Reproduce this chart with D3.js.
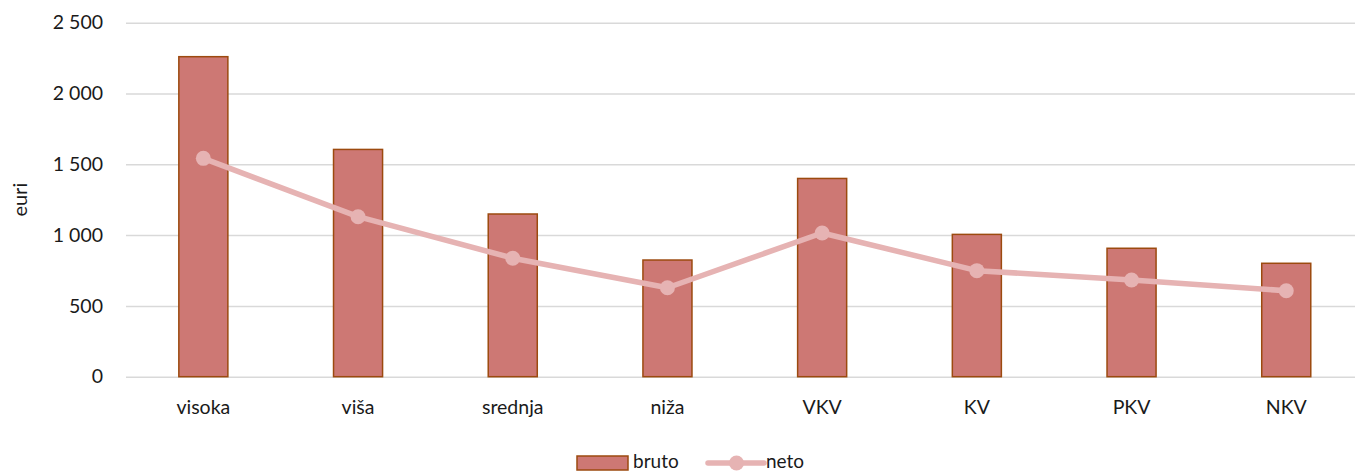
<!DOCTYPE html>
<html>
<head>
<meta charset="utf-8">
<script src="https://cdn.jsdelivr.net/npm/d3@7"></script>
<style>
  body { margin: 0; background: #fff; }
  text { font-family: Lato, "Open Sans", sans-serif; fill: #1a1a1a; }
</style>
</head>
<body>
<svg id="chart"></svg>
<script>
const width = 1355, height = 472;

const MARGIN = { LEFT: 126, TOP: 22.7, BOTTOM: 95.3 };

// data
const categories = ["visoka", "viša", "srednja", "niža", "VKV", "KV", "PKV", "NKV"];
const bruto = [2260, 1605, 1149, 824, 1400, 1005, 907, 801];
const neto = [1542, 1130, 837, 628, 1015, 749, 683, 607];
const yTicks = [0, 500, 1000, 1500, 2000, 2500];

const BAR_FILL = "#cd7874", BAR_STROKE = "#9c4a0f", LINE_COLOR = "#e6b3b3";

const svg = d3.select("#chart").attr("width", width).attr("height", height);

const plotW = 8 * 154.7;
const x = d3.scaleBand()
    .domain(categories)
    .range([MARGIN.LEFT, MARGIN.LEFT + plotW])
    .paddingInner(0.683)
    .paddingOuter(0.3415);

const y = d3.scaleLinear()
    .domain([0, 2500])
    .range([height - MARGIN.BOTTOM, MARGIN.TOP]);

const fmt = v => d3.format(",")(v).replace(/,/g, " ");

// gridlines + y labels
const yAxis = svg.append("g")
    .attr("transform", `translate(${MARGIN.LEFT},0)`)
    .call(d3.axisLeft(y).tickValues(yTicks).tickSize(-plotW).tickFormat(fmt));
yAxis.select(".domain").remove();
yAxis.selectAll(".tick line").attr("stroke", "#d9d9d9").attr("stroke-width", 1.5);
yAxis.selectAll(".tick text")
    .attr("x", -23)
    .style("font-size", "19.5px")
    .style("font-family", "Lato, sans-serif")
    .attr("fill", "#1a1a1a");

// x labels
const xAxis = svg.append("g")
    .attr("transform", `translate(0,${y(0)})`)
    .call(d3.axisBottom(x).tickSize(0));
xAxis.select(".domain").remove();
xAxis.selectAll(".tick text")
    .attr("dy", 0)
    .attr("y", 37)
    .style("font-size", "19.5px")
    .style("font-family", "Lato, sans-serif")
    .attr("fill", "#1a1a1a");

// axis title
svg.append("text")
    .attr("transform", `translate(27,${(y(0) + y(2500)) / 2}) rotate(-90)`)
    .attr("text-anchor", "middle")
    .style("font-size", "20px")
    .text("euri");

// bars
svg.append("g").selectAll("rect")
    .data(categories)
    .join("rect")
    .attr("x", d => x(d))
    .attr("y", (d, i) => y(bruto[i]))
    .attr("width", x.bandwidth())
    .attr("height", (d, i) => y(0) - y(bruto[i]))
    .attr("fill", BAR_FILL)
    .attr("stroke", BAR_STROKE)
    .attr("stroke-width", 1.5);

// neto line
const cx = d => x(d) + x.bandwidth() / 2;
const line = d3.line()
    .x(d => cx(d))
    .y((d, i) => y(neto[i]));
svg.append("path")
    .datum(categories)
    .attr("d", line)
    .attr("fill", "none")
    .attr("stroke", LINE_COLOR)
    .attr("stroke-width", 5.5)
    .attr("stroke-linejoin", "round");

svg.append("g").selectAll("circle")
    .data(categories)
    .join("circle")
    .attr("cx", d => cx(d))
    .attr("cy", (d, i) => y(neto[i]))
    .attr("r", 7.5)
    .attr("fill", LINE_COLOR);

// legend
const legend = svg.append("g").attr("transform", "translate(0,462)");
legend.append("rect")
    .attr("x", 577).attr("y", -6)
    .attr("width", 51).attr("height", 14)
    .attr("fill", BAR_FILL).attr("stroke", BAR_STROKE).attr("stroke-width", 1.5);
legend.append("text")
    .attr("x", 633).attr("dy", "0.3em")
    .style("font-size", "19px")
    .text("bruto");
legend.append("line")
    .attr("x1", 708).attr("x2", 764).attr("y1", 1).attr("y2", 1)
    .attr("stroke", LINE_COLOR).attr("stroke-width", 5.5).attr("stroke-linecap", "round");
legend.append("circle")
    .attr("cx", 736.5).attr("cy", 1).attr("r", 7.5).attr("fill", LINE_COLOR);
legend.append("text")
    .attr("x", 766).attr("dy", "0.3em")
    .style("font-size", "19px")
    .text("neto");
</script>
</body>
</html>
